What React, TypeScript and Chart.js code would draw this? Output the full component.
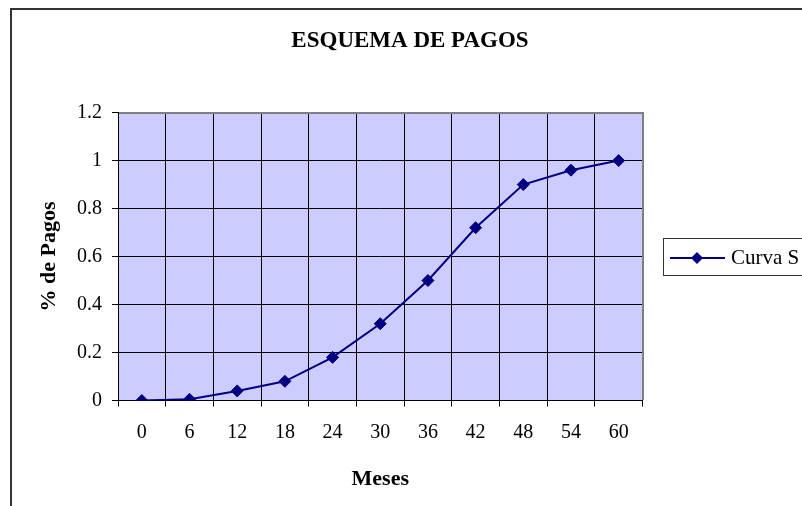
import React, { useEffect, useRef } from 'react';
import { Chart, registerables } from 'chart.js';

Chart.register(...registerables);

const categories = ['0', '6', '12', '18', '24', '30', '36', '42', '48', '54', '60'];
const curvaS = [0, 0.005, 0.04, 0.08, 0.18, 0.32, 0.5, 0.72, 0.9, 0.96, 1];
const yTickValues = [0, 0.2, 0.4, 0.6, 0.8, 1, 1.2];
const seriesName = 'Curva S';
const chartTitle = 'ESQUEMA DE PAGOS';
const xTitle = 'Meses';
const yTitle = '% de Pagos';

const NAVY = '#000080';
const FONT = '"Liberation Serif", "Times New Roman", serif';

const CANVAS_W = 796;
const CANVAS_H = 520;

const plotBgPlugin = {
  id: 'plotBg',
  beforeDraw(chart: any) {
    const { ctx, chartArea } = chart;
    ctx.save();
    ctx.fillStyle = '#CCCCFF';
    ctx.fillRect(chartArea.left, chartArea.top, chartArea.right - chartArea.left, chartArea.bottom - chartArea.top);
    ctx.restore();
  },
  beforeDatasetsDraw(chart: any) {
    const { ctx, chartArea } = chart;
    ctx.save();
    ctx.strokeStyle = '#808080';
    ctx.lineWidth = 2;
    ctx.beginPath();
    ctx.moveTo(Math.round(chartArea.left) + 1, Math.round(chartArea.top));
    ctx.lineTo(Math.round(chartArea.right), Math.round(chartArea.top));
    ctx.lineTo(Math.round(chartArea.right), Math.round(chartArea.bottom) - 1);
    ctx.stroke();
    ctx.restore();
  },
};

const boxLegendPlugin = {
  id: 'boxLegend',
  afterDraw(chart: any) {
    const { ctx, chartArea } = chart;
    const left = Math.round(chartArea.right + 20);
    const cy = Math.round((chartArea.top + chartArea.bottom) / 2);
    const top = cy - 19;
    ctx.save();
    ctx.strokeStyle = '#333333';
    ctx.lineWidth = 1;
    ctx.strokeRect(left + 0.5, top + 0.5, 300, 37);
    const ly = cy + 1;
    ctx.strokeStyle = NAVY;
    ctx.lineWidth = 2;
    ctx.beginPath();
    ctx.moveTo(left + 7, ly);
    ctx.lineTo(left + 62, ly);
    ctx.stroke();
    const mx = left + 34;
    const r = 6;
    ctx.fillStyle = NAVY;
    ctx.beginPath();
    ctx.moveTo(mx, ly - r);
    ctx.lineTo(mx + r, ly);
    ctx.lineTo(mx, ly + r);
    ctx.lineTo(mx - r, ly);
    ctx.closePath();
    ctx.fill();
    ctx.fillStyle = '#000';
    ctx.font = '21px ' + FONT;
    ctx.textBaseline = 'middle';
    ctx.textAlign = 'left';
    ctx.fillText(seriesName, left + 68, ly);
    ctx.restore();
  },
};

function SChart() {
  const ref = useRef<HTMLCanvasElement | null>(null);
  useEffect(() => {
    if (!ref.current) return;
    Chart.defaults.font.family = FONT;
    Chart.defaults.color = '#000';
    const chart = new Chart(ref.current, {
      type: 'line',
      data: {
        labels: categories,
        datasets: [
          {
            label: seriesName,
            data: curvaS,
            borderColor: NAVY,
            backgroundColor: NAVY,
            borderWidth: 2,
            pointStyle: 'rectRot',
            pointRadius: 6,
            pointBorderWidth: 1,
            pointBackgroundColor: NAVY,
            pointBorderColor: NAVY,
            tension: 0,
            fill: false,
            yAxisID: 'y',
          },
        ],
      },
      options: {
        animation: false,
        responsive: false,
        devicePixelRatio: 1,
        layout: { padding: 0 },
        plugins: {
          legend: { display: false },
          tooltip: { enabled: false },
          title: {
            display: true,
            text: chartTitle,
            color: '#000',
            font: { size: 23, weight: 'bold', family: FONT },
            padding: { top: 17, bottom: 58 },
            fullSize: true,
          },
        },
        scales: {
          x: {
            type: 'category',
            offset: true,
            grid: {
              display: true,
              offset: true,
              color: '#000',
              lineWidth: 1,
              drawTicks: true,
              tickLength: 6,
              tickColor: '#000',
            },
            border: { display: true, color: '#000', width: 1 },
            ticks: { font: { size: 20, family: FONT }, color: '#000', padding: 14, maxRotation: 0, autoSkip: false },
            title: {
              display: true,
              text: xTitle,
              color: '#000',
              font: { size: 22, weight: 'bold', family: FONT },
              padding: { top: 4, bottom: 37 },
            },
            afterFit: (s: any) => {
              s.height = 129.5;
            },
          },
          y: {
            type: 'linear',
            position: 'left',
            min: 0,
            max: 1.2,
            afterBuildTicks: (s: any) => {
              s.ticks = yTickValues.map((v) => ({ value: v }));
            },
            grid: {
              display: true,
              color: '#000',
              lineWidth: 1,
              drawTicks: true,
              tickLength: 6,
              tickColor: '#000',
            },
            border: { display: true, color: '#000', width: 1 },
            ticks: {
              font: { size: 20, family: FONT },
              color: '#000',
              padding: 10,
              callback: (v: any) => String(Math.round(Number(v) * 10) / 10),
            },
            title: {
              display: true,
              text: yTitle,
              color: '#000',
              font: { size: 22, weight: 'bold', family: FONT },
              padding: { top: 24, bottom: 24 },
            },
            afterFit: (s: any) => {
              s.width = 106;
            },
          },
          y2: {
            type: 'linear',
            position: 'right',
            display: true,
            grid: { display: false },
            border: { display: false },
            ticks: { display: false },
            afterFit: (s: any) => {
              s.width = 165.5;
            },
          },
        },
      },
      plugins: [plotBgPlugin, boxLegendPlugin],
    } as any);
    return () => chart.destroy();
  }, []);
  return (
    <canvas
      ref={ref}
      width={CANVAS_W}
      height={CANVAS_H}
      style={{ display: 'block', width: CANVAS_W, height: CANVAS_H }}
    />
  );
}

export default function App() {
  return (
    <div style={{ position: 'fixed', left: 0, top: 0, width: 802, height: 506, overflow: 'hidden', background: '#fff' }}>
      <div
        style={{
          position: 'absolute',
          left: 10,
          top: 8,
          border: '2px solid #333333',
          width: CANVAS_W + 20,
          height: CANVAS_H + 20,
          background: '#fff',
        }}
      >
        <SChart />
      </div>
    </div>
  );
}
